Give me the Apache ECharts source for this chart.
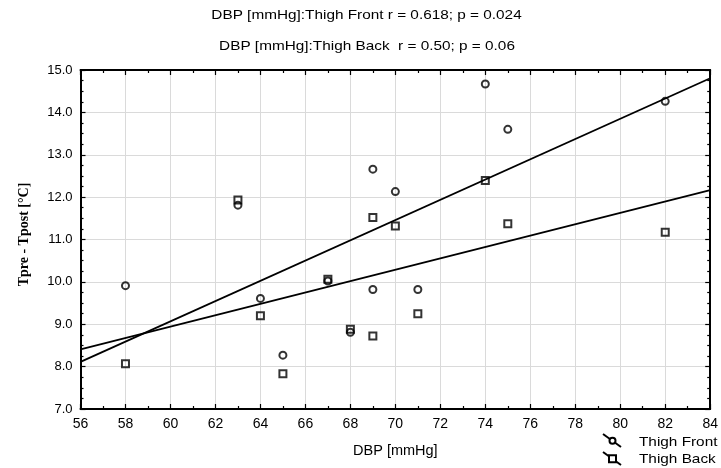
<!DOCTYPE html>
<html>
<head>
<meta charset="utf-8">
<script src="https://cdn.jsdelivr.net/npm/echarts@6/dist/echarts.min.js"></script>
<style>
html,body{margin:0;padding:0;background:#fff;}
#chart{width:721px;height:468px;}
</style>
</head>
<body>
<div id="chart"></div>
<script>
// ---- data ----
const dbp        = [58, 63, 64, 65, 67, 68, 69, 69, 70, 71, 74, 75, 82];
const thighFront = [9.91, 11.81, 9.61, 8.27, 10.02, 8.81, 12.66, 9.82, 12.13, 9.82, 14.67, 13.60, 14.26];
const thighBack  = [8.07, 11.93, 9.20, 7.83, 10.06, 8.88, 11.52, 8.72, 11.32, 9.25, 12.39, 11.37, 11.17];
const xRange = [56, 84];
const yRange = [7, 15];
const titleLines = [
  'DBP [mmHg]:Thigh Front r = 0.618; p = 0.024',
  'DBP [mmHg]:Thigh Back  r = 0.50; p = 0.06'
];
const seriesNames = ['Thigh Front', 'Thigh Back'];

function fit(xs, ys) {
  const n = xs.length;
  const mx = xs.reduce((a, b) => a + b, 0) / n;
  const my = ys.reduce((a, b) => a + b, 0) / n;
  let sxy = 0, sxx = 0;
  for (let i = 0; i < n; i++) { sxy += (xs[i] - mx) * (ys[i] - my); sxx += (xs[i] - mx) ** 2; }
  const b = sxy / sxx, a = my - b * mx;
  return xRange.map(x => [x, a + b * x]);
}
const pairs = ys => dbp.map((x, i) => [x, ys[i]]);

const chart = echarts.init(document.getElementById('chart'), null, {renderer: 'canvas'});
const TXT = '"Liberation Sans", Arial, sans-serif';

const baseX = {
  type: 'value', min: xRange[0], max: xRange[1], interval: 2,
  axisLine: {show: true, onZero: false, lineStyle: {color: '#000', width: 2}},
  axisTick: {show: true, inside: true, length: 5, lineStyle: {color: '#000', width: 1.2}},
  minorTick: {show: true, splitNumber: 2, length: 3, lineStyle: {color: '#000', width: 1.2}},
  splitLine: {show: false}
};
const baseY = {
  type: 'value', min: yRange[0], max: yRange[1], interval: 1,
  axisLine: {show: true, onZero: false, lineStyle: {color: '#000', width: 2}},
  axisTick: {show: true, inside: true, length: 5, lineStyle: {color: '#000', width: 1.2}},
  minorTick: {show: true, splitNumber: 4, length: 3, lineStyle: {color: '#000', width: 1.2}},
  splitLine: {show: false}
};

const option = {
  backgroundColor: '#fff',
  animation: false,
  grid: {left: 80.5, right: 7.5, top: 70, bottom: 59, containLabel: false},
  xAxis: [
    Object.assign({}, baseX, {
      position: 'bottom',
      name: 'DBP [mmHg]', nameLocation: 'middle', nameGap: 34,
      nameTextStyle: {fontFamily: TXT, fontSize: 14.5, color: '#000'},
      axisLabel: {show: true, margin: 8, fontFamily: TXT, fontSize: 14, color: '#000'},
      splitLine: {show: true, lineStyle: {color: '#dadada', width: 1}}
    }),
    Object.assign({}, baseX, {position: 'top', axisLabel: {show: false}})
  ],
  yAxis: [
    Object.assign({}, baseY, {
      position: 'left',
      name: 'Tpre - Tpost [°C]', nameLocation: 'middle', nameGap: 49,
      nameTextStyle: {fontFamily: '"Liberation Serif", "Times New Roman", serif', fontWeight: 'bold',
                      fontSize: 14, color: '#000', padding: [0, 0, 0, 10]},
      axisLabel: {show: true, margin: 8, fontFamily: TXT, fontSize: 13, color: '#000',
                  formatter: v => v.toFixed(1)},
      splitLine: {show: true, lineStyle: {color: '#dadada', width: 1}}
    }),
    Object.assign({}, baseY, {position: 'right', axisLabel: {show: false}})
  ],
  series: [
    {name: seriesNames[0] + ' fit', type: 'line', data: fit(dbp, thighFront), showSymbol: false,
     lineStyle: {color: '#000', width: 1.8}, z: 2, silent: true},
    {name: seriesNames[1] + ' fit', type: 'line', data: fit(dbp, thighBack), showSymbol: false,
     lineStyle: {color: '#000', width: 1.8}, z: 2, silent: true},
    {name: seriesNames[0], type: 'scatter', data: pairs(thighFront), symbol: 'circle', symbolSize: 7,
     itemStyle: {color: 'rgba(255,255,255,0)', borderColor: '#000', borderWidth: 2}, z: 3},
    {name: seriesNames[1], type: 'scatter', data: pairs(thighBack), symbol: 'rect', symbolSize: 7,
     itemStyle: {color: 'rgba(255,255,255,0)', borderColor: '#000', borderWidth: 2}, z: 3}
  ],
  graphic: [
    {type: 'text', x: 366.5, y: 15.5, scaleX: 1.18,
     style: {text: titleLines[0], font: '13px ' + TXT, fill: '#000', textAlign: 'center', textVerticalAlign: 'middle'}},
    {type: 'text', x: 367, y: 46.5, scaleX: 1.18,
     style: {text: titleLines[1], font: '13px ' + TXT, fill: '#000', textAlign: 'center', textVerticalAlign: 'middle'}},
    // legend
    {type: 'line', shape: {x1: 603, y1: 434, x2: 621, y2: 447}, style: {stroke: '#000', lineWidth: 2}},
    {type: 'circle', shape: {cx: 612.5, cy: 440.8, r: 3}, style: {stroke: '#000', fill: '#fff', lineWidth: 2}},
    {type: 'text', x: 639, y: 442.5, scaleX: 1.18,
     style: {text: seriesNames[0], font: '13px ' + TXT, fill: '#000', textAlign: 'left', textVerticalAlign: 'middle'}},
    {type: 'line', shape: {x1: 603, y1: 452, x2: 621, y2: 465}, style: {stroke: '#000', lineWidth: 2}},
    {type: 'rect', shape: {x: 609, y: 455.3, width: 7, height: 7}, style: {stroke: '#000', fill: '#fff', lineWidth: 2}},
    {type: 'text', x: 639, y: 459, scaleX: 1.18,
     style: {text: seriesNames[1], font: '13px ' + TXT, fill: '#000', textAlign: 'left', textVerticalAlign: 'middle'}}
  ]
};
chart.setOption(option);
</script>
</body>
</html>
